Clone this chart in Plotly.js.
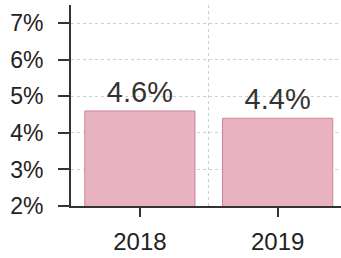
<!DOCTYPE html>
<html><head><meta charset="utf-8">
<script src="https://cdn.plot.ly/plotly-3.0.1.min.js"></script>
<style>html,body{margin:0;padding:0;background:#fff}</style>
</head><body>
<div id="chart" style="width:341px;height:258px"></div>
<script>
const years = [2018, 2019];
const yearLabels = ["2018", "2019"];
const values = [4.6, 4.4];
const valueLabels = ["4.6%", "4.4%"];
const yTickVals = [2, 3, 4, 5, 6, 7];
const yTickText = ["2%", "3%", "4%", "5%", "6%", "7%"];

const trace = {
  type: 'bar',
  x: years,
  y: values,
  width: 0.8,
  text: valueLabels,
  textposition: 'outside',
  cliponaxis: false,
  textfont: {family: 'Liberation Sans, Arial, sans-serif', size: 29, color: '#333'},
  marker: {color: '#e8b2c0', line: {color: '#c98499', width: 1}},
  hoverinfo: 'none'
};

const layout = {
  width: 341, height: 258,
  margin: {l: 71, r: 0, t: 5, b: 52},
  paper_bgcolor: '#fff', plot_bgcolor: '#fff',
  showlegend: false,
  font: {family: 'Liberation Sans, Arial, sans-serif', color: '#333'},
  xaxis: {
    type: 'linear',
    range: [2017.5, 2019.46],
    tickmode: 'array', tickvals: years, ticktext: yearLabels,
    ticks: 'outside', ticklen: 9, tickwidth: 2, tickcolor: '#333',
    showline: true, linecolor: '#333', linewidth: 2,
    showgrid: false, zeroline: false,
    tickfont: {size: 24, color: '#222'},
    ticklabelstandoff: 4,
    minor: {tickmode: 'array', tickvals: [2018.5], showgrid: true, gridcolor: '#cfcfcf', griddash: 'dot', gridwidth: 1, ticks: ''}
  },
  yaxis: {
    range: [2, 7.5],
    tickmode: 'array', tickvals: yTickVals, ticktext: yTickText,
    ticks: 'outside', ticklen: 11, tickwidth: 2, tickcolor: '#333',
    showline: true, linecolor: '#333', linewidth: 2,
    showgrid: true, gridcolor: '#cfcfcf', griddash: 'dot', gridwidth: 1,
    zeroline: false,
    tickfont: {size: 23, color: '#222'},
    ticklabelstandoff: 10
  }
};

Plotly.newPlot('chart', [trace], layout, {staticPlot: true, displayModeBar: false});
</script>
</body></html>
